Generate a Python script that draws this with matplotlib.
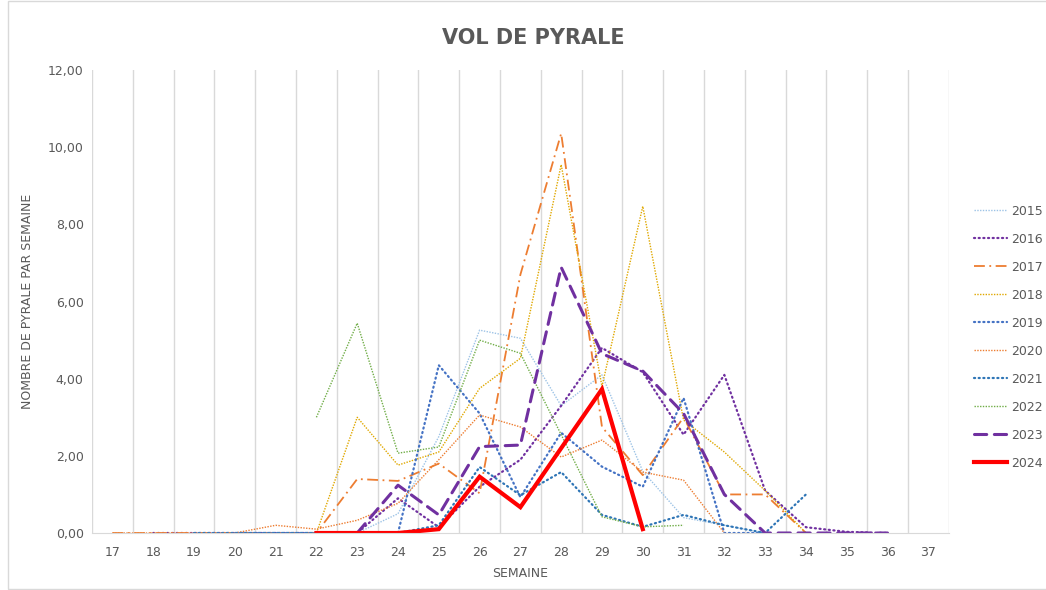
import numpy as np
import matplotlib.pyplot as plt
from matplotlib.patches import Rectangle

weeks = list(range(17, 38))
N = None

s2015 = [N, N, 0, 0, 0, 0, 0, 0.5, 2.5, 5.26, 5.05, 3.3, 4.1, 1.6, 0.4, 0.2, 0, N, N, N, N]
s2016 = [N, 0, 0, 0, 0, 0, 0, 0.9, 0.15, 1.2, 1.9, 3.3, 4.8, 4.17, 2.55, 4.1, 1.1, 0.15, 0.03, 0, N]
s2017 = [0, 0, 0, 0, 0, 0, 1.4, 1.35, 1.8, 1.03, 6.7, 10.36, 2.75, 1.5, 3.0, 1.0, 1.0, 0, N, N, N]
s2018 = [N, N, N, N, N, 0, 3.0, 1.76, 2.1, 3.75, 4.53, 9.55, 3.8, 8.47, 2.93, 2.1, 1.1, 0, N, N, N]
s2019 = [N, N, N, 0, 0, 0, 0, 0, 4.35, 3.1, 0.93, 2.6, 1.72, 1.2, 3.5, 0, 0, N, N, N, N]
s2020 = [0, 0, 0, 0, 0.2, 0.1, 0.33, 0.77, 1.9, 3.06, 2.75, 1.97, 2.41, 1.58, 1.37, 0, N, N, N, N, N]
s2021 = [N, N, 0, 0, 0, 0, 0, 0, 0.2, 1.71, 0.98, 1.58, 0.47, 0.16, 0.47, 0.2, 0, 1.0, N, N, N]
s2022 = [N, N, N, N, N, 3.0, 5.44, 2.07, 2.23, 5.0, 4.66, 2.55, 0.42, 0.16, 0.2, N, N, N, N, N, N]
s2023 = [N, N, N, N, N, N, 0, 1.24, 0.47, 2.24, 2.28, 6.89, 4.65, 4.2, 3.1, 1.0, 0, 0, 0, 0, N]
s2024 = [N, N, N, N, N, 0, 0, 0, 0.1, 1.46, 0.67, 2.2, 3.73, 0.1, N, N, N, N, N, N, N]

series = [
    ("2015", s2015, "#9DC3E6", 1.0, (0, (1, 1))),
    ("2016", s2016, "#7030A0", 1.6, (0, (0.5, 1.6))),
    ("2017", s2017, "#ED7D31", 1.3, (0, (6, 2.5, 1, 2.5))),
    ("2018", s2018, "#E0A800", 1.0, (0, (1, 1))),
    ("2019", s2019, "#4472C4", 1.6, (0, (0.5, 1.6))),
    ("2020", s2020, "#ED7D31", 1.0, (0, (1, 1))),
    ("2021", s2021, "#2E75B6", 1.6, (0, (0.5, 1.6))),
    ("2022", s2022, "#70AD47", 1.0, (0, (1, 1))),
    ("2023", s2023, "#7030A0", 2.2, (0, (4, 2.5))),
    ("2024", s2024, "#FF0000", 3.0, "-"),
]

fig = plt.figure(figsize=(10.46, 5.9), dpi=100)
ax = fig.add_axes([0.088, 0.0966, 0.819, 0.7844])

x = np.arange(len(weeks))
for name, vals, col, lw, ls in series:
    y = np.array([np.nan if v is None else v for v in vals], dtype=float)
    ax.plot(x, y, color=col, lw=lw, linestyle=ls, label=name,
            dash_capstyle="round" if lw > 1.4 and ls != "-" else "butt",
            solid_joinstyle="miter")

ax.set_xlim(-0.5, len(weeks) - 0.5)
ax.set_ylim(0, 12)
ax.set_yticks(np.arange(0, 13, 2))
ax.set_yticklabels(["%d,00" % v for v in range(0, 13, 2)])
ax.set_xticks(x)
ax.set_xticklabels([str(w) for w in weeks])

for b in np.arange(-0.5, len(weeks), 1.0):
    ax.axvline(b, color="#D9D9D9", lw=1.0, zorder=0)

for s in ["top", "right", "left"]:
    ax.spines[s].set_visible(False)
ax.spines["bottom"].set_color("#D9D9D9")
ax.tick_params(axis="both", length=0, colors="#595959", labelsize=9)
ax.tick_params(axis="x", pad=9)
ax.tick_params(axis="y", pad=6)

ax.set_xlabel("SEMAINE", color="#595959", fontsize=9, labelpad=6)
ax.set_ylabel("NOMBRE DE PYRALE PAR SEMAINE", color="#595959", fontsize=9, labelpad=10)
fig.text(0.51, 0.935, "VOL DE PYRALE", ha="center", va="center",
         fontsize=15, fontweight="bold", color="#595959")

leg = ax.legend(loc="upper left", bbox_to_anchor=(1.024, 0.72), frameon=False,
                fontsize=9, handlelength=2.6, labelspacing=1.2, handletextpad=0.35,
                borderaxespad=0.0)
for t in leg.get_texts():
    t.set_color("#595959")

fig.patches.append(Rectangle((0.008, 0.002), 1.1, 0.996, transform=fig.transFigure,
                             fill=False, edgecolor="#D9D9D9", lw=1.0, zorder=-1))

fig.savefig("out.png", dpi=100)
